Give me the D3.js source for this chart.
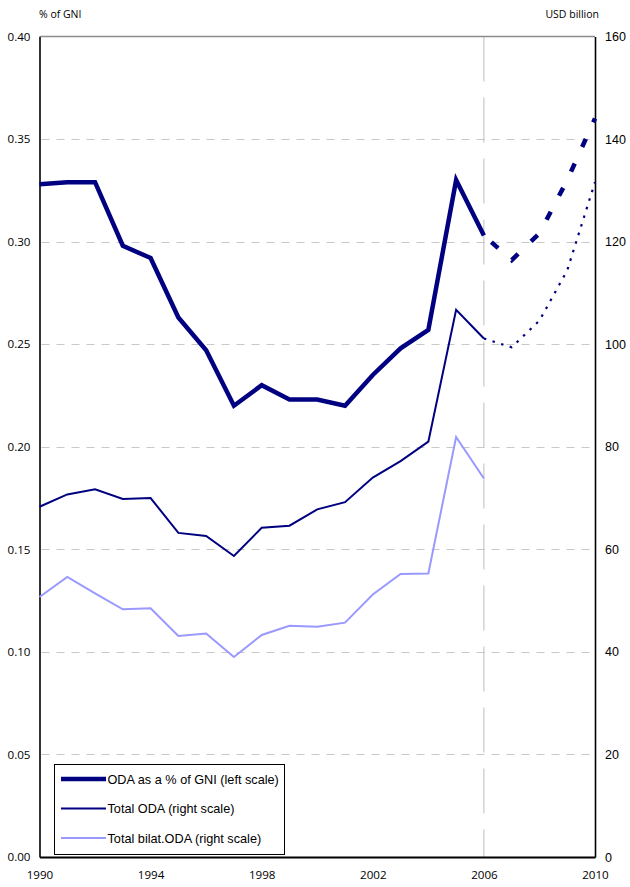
<!DOCTYPE html>
<html>
<head>
<meta charset="utf-8">
<script src="https://cdn.jsdelivr.net/npm/d3@7"></script>
<style>
  body { margin: 0; background: #fff; }
</style>
</head>
<body>
<div id="main"></div>
<script>

//===============DATA===================
var years = [1990, 1991, 1992, 1993, 1994, 1995, 1996, 1997, 1998, 1999, 2000, 2001, 2002, 2003, 2004, 2005, 2006];
var odaGni = [0.328, 0.329, 0.329, 0.298, 0.292, 0.263, 0.247, 0.220, 0.230, 0.223, 0.223, 0.220, 0.235, 0.248, 0.257, 0.330, 0.303];
var odaTotal = [68.3, 70.7, 71.7, 69.8, 70.0, 63.2, 62.6, 58.7, 64.2, 64.6, 67.8, 69.2, 74.0, 77.2, 81.0, 106.7, 101.1];
var odaBilat = [50.7, 54.6, 51.4, 48.3, 48.5, 43.1, 43.6, 39.0, 43.3, 45.1, 44.9, 45.7, 51.2, 55.2, 55.3, 81.9, 73.8];

// projections 2006-2010
var projYears = [2006, 2007, 2008, 2009, 2010];
var odaGniProj = [0.303, 0.291, 0.304, 0.330, 0.360];
var odaTotalProj = [101.1, 99.4, 104.6, 114.4, 131.6];

var xTicks = [1990, 1994, 1998, 2002, 2006, 2010];
var leftTicks = [0, 0.05, 0.10, 0.15, 0.20, 0.25, 0.30, 0.35, 0.40];
var rightTicks = [0, 20, 40, 60, 80, 100, 120, 140, 160];
var legendLabels = ["ODA as a % of GNI (left scale)", "Total ODA (right scale)", "Total bilat.ODA (right scale)"];

//===============SETUP===================
var width = 630, height = 887,
    plot = {left: 39.5, right: 595, top: 36.5, bottom: 857};

var navy = "#000080", lavender = "#9999ff";

var svg = d3.select("#main").append("svg")
    .attr("width", width)
    .attr("height", height);

var x = d3.scaleLinear().domain([1990, 2010]).range([plot.left, plot.right]);
var yL = d3.scaleLinear().domain([0, 0.4]).range([plot.bottom, plot.top]);
var yR = d3.scaleLinear().domain([0, 160]).range([plot.bottom, plot.top]);

//===============GRID===================
svg.append("g").selectAll("line")
    .data(leftTicks.slice(1, -1))
    .enter().append("line")
    .attr("x1", plot.left + 2)
    .attr("x2", plot.right)
    .attr("y1", function(d){ return Math.round(yL(d)) + 0.5; })
    .attr("y2", function(d){ return Math.round(yL(d)) + 0.5; })
    .attr("stroke", "#c8c8c8")
    .attr("stroke-width", 1)
    .attr("stroke-dasharray", "8,7");

// 2006 marker
svg.append("line")
    .attr("x1", x(2006)).attr("x2", x(2006))
    .attr("y1", plot.top).attr("y2", plot.bottom)
    .attr("stroke", "#bdbdbd")
    .attr("stroke-width", 1)
    .attr("stroke-dasharray", "45,16");

// top border
svg.append("line")
    .attr("x1", plot.left).attr("x2", plot.right)
    .attr("y1", plot.top).attr("y2", plot.top)
    .attr("stroke", "#8c8c8c")
    .attr("stroke-width", 1.5);

//===============AXES===================
var axisFont = "'Open Sans', sans-serif";

var gLeft = svg.append("g")
    .attr("transform", "translate(" + plot.left + ",0)")
    .call(d3.axisLeft(yL).tickValues(leftTicks).tickSize(0).tickPadding(9).tickFormat(d3.format(".2f")));

var gRight = svg.append("g")
    .attr("transform", "translate(" + plot.right + ",0)")
    .call(d3.axisRight(yR).tickValues(rightTicks).tickSize(0).tickPadding(10).tickFormat(d3.format("d")));

var gBottom = svg.append("g")
    .attr("transform", "translate(0," + plot.bottom + ")")
    .call(d3.axisBottom(x).tickValues(xTicks).tickSize(0).tickPadding(14).tickFormat(d3.format("d")));

[gLeft, gRight, gBottom].forEach(function(g){
    g.select(".domain").attr("stroke", "#000").attr("stroke-width", 1.6);
    g.selectAll("text").attr("fill", "#000").style("font-family", axisFont).style("font-size", "11.6px");
});
gBottom.select(".domain").attr("stroke-width", 2);
gRight.selectAll("text").style("font-family", "'Liberation Sans', Arial, sans-serif").style("font-size", "12.5px");

svg.append("text")
    .attr("x", 39).attr("y", 18)
    .style("font-family", axisFont).style("font-size", "10.5px")
    .text("% of GNI");

svg.append("text")
    .attr("x", 599).attr("y", 18)
    .attr("text-anchor", "end")
    .style("font-family", axisFont).style("font-size", "10.5px")
    .text("USD billion");

//===============LINES===================
function series(xs, ys){
    return xs.map(function(d, i){ return [d, ys[i]]; });
}

var lineL = d3.line().x(function(d){ return x(d[0]); }).y(function(d){ return yL(d[1]); });
var lineR = d3.line().x(function(d){ return x(d[0]); }).y(function(d){ return yR(d[1]); });

svg.append("path")
    .datum(series(years, odaBilat))
    .attr("d", lineR)
    .attr("fill", "none")
    .attr("stroke", lavender)
    .attr("stroke-width", 2);

svg.append("path")
    .datum(series(years, odaTotal))
    .attr("d", lineR)
    .attr("fill", "none")
    .attr("stroke", navy)
    .attr("stroke-width", 2);

svg.append("path")
    .datum(series(projYears, odaTotalProj))
    .attr("d", lineR)
    .attr("fill", "none")
    .attr("stroke", navy)
    .attr("stroke-width", 2.2)
    .attr("stroke-dasharray", "2.5,6.5");

svg.append("path")
    .datum(series(years, odaGni))
    .attr("d", lineL)
    .attr("fill", "none")
    .attr("stroke", navy)
    .attr("stroke-width", 4.5);

svg.append("path")
    .datum(series(projYears, odaGniProj))
    .attr("d", lineL)
    .attr("fill", "none")
    .attr("stroke", navy)
    .attr("stroke-width", 4.5)
    .attr("stroke-dasharray", "0,10,9,8");

//===============LEGEND===================
var legend = svg.append("g");

legend.append("rect")
    .attr("x", 54.5).attr("y", 764.5)
    .attr("width", 230).attr("height", 90)
    .attr("fill", "#fff")
    .attr("stroke", "#000")
    .attr("stroke-width", 1);

var legendStyle = [
    {color: navy, w: 4.5},
    {color: navy, w: 2},
    {color: lavender, w: 2}
];

var item = legend.selectAll(".item")
    .data(legendLabels)
    .enter().append("g")
    .attr("class", "item")
    .attr("transform", function(d, i){ return "translate(0," + (779 + i * 29.5) + ")"; });

item.append("line")
    .attr("x1", 61).attr("x2", 106)
    .attr("stroke", function(d, i){ return legendStyle[i].color; })
    .attr("stroke-width", function(d, i){ return legendStyle[i].w; });

item.append("text")
    .attr("x", 107.5).attr("y", 4.5)
    .style("font-family", "'Liberation Sans', Arial, sans-serif")
    .style("font-size", "12.7px")
    .text(function(d){ return d; });

</script>
</body>
</html>
